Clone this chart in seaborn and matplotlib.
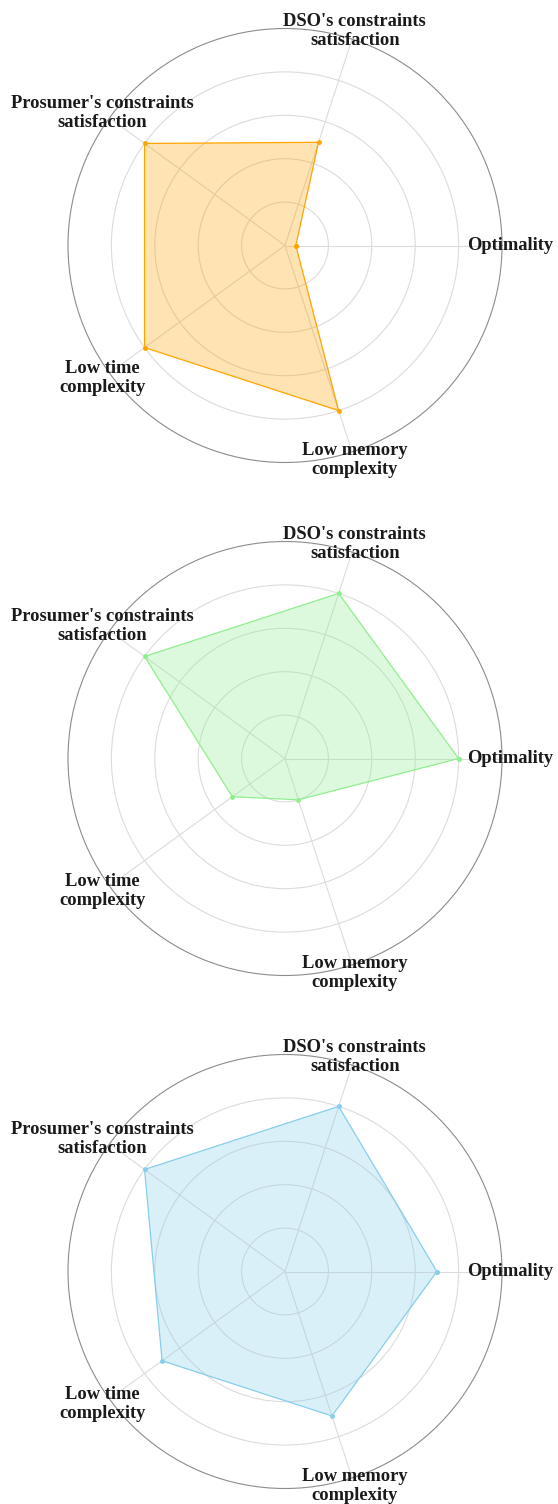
import numpy as np
import pandas as pd
import matplotlib
matplotlib.use("Agg")
import matplotlib.pyplot as plt
import seaborn as sns

categories = ["Optimality", "DSO's constraints\nsatisfaction", "Prosumer's constraints\nsatisfaction",
              "Low time\ncomplexity", "Low memory\ncomplexity"]
values_orange = [0.05, 0.5, 0.8, 0.8, 0.8]
values_green = [0.8, 0.8, 0.8, 0.3, 0.2]
values_blue = [0.7, 0.8, 0.8, 0.7, 0.7]
series = [values_orange, values_green, values_blue]
colors = ["#FFA500", "#90EE90", "#87CEEB"]
ring_ticks = [0.2, 0.4, 0.6, 0.8]

sns.set_theme(style="white")
plt.rcParams['font.family'] = ['Liberation Serif', 'DejaVu Serif']

W, H = 558, 1504
fig = plt.figure(figsize=(W / 100, H / 100), dpi=100)

R = 217
cx = 285
centers_y = [245.5, 758.5, 1271.5]

angles = np.linspace(0, 2 * np.pi, len(categories), endpoint=False)

for vals, col, cy in zip(series, colors, centers_y):
    left = (cx - R) / W
    bottom = 1 - (cy + R) / H
    ax = fig.add_axes([left, bottom, 2 * R / W, 2 * R / H], projection="polar")
    df = pd.DataFrame({"angle": list(angles) + [angles[0] + 2 * np.pi],
                       "value": list(vals) + [vals[0]]})
    ax.fill(df["angle"], df["value"], color=col, alpha=0.3, zorder=2, linewidth=0)
    sns.lineplot(data=df, x="angle", y="value", sort=False, estimator=None, ax=ax,
                 color=col, linewidth=0.9, marker="o", markersize=3.5,
                 markeredgewidth=0, zorder=3)
    ax.set_ylim(0, 1)
    ax.set_yticks(ring_ticks)
    ax.set_yticklabels([])
    ax.set_xticks(angles)
    ax.set_xticklabels([])
    for ang, lab in zip(angles, categories):
        ax.text(ang, 1.04, lab, ha="center", va="center", multialignment="center",
                fontsize=13.3, fontweight="bold", color="#1a1a1a", linespacing=1.2)
    ax.grid(True, color="#dcdcdc", linewidth=0.8)
    ax.spines["polar"].set_color("#8c8c8c")
    ax.spines["polar"].set_linewidth(0.8)
    ax.set_xlabel("")
    ax.set_ylabel("")
    ax.set_facecolor("white")

fig.savefig("out.png", dpi=100, facecolor="white")
